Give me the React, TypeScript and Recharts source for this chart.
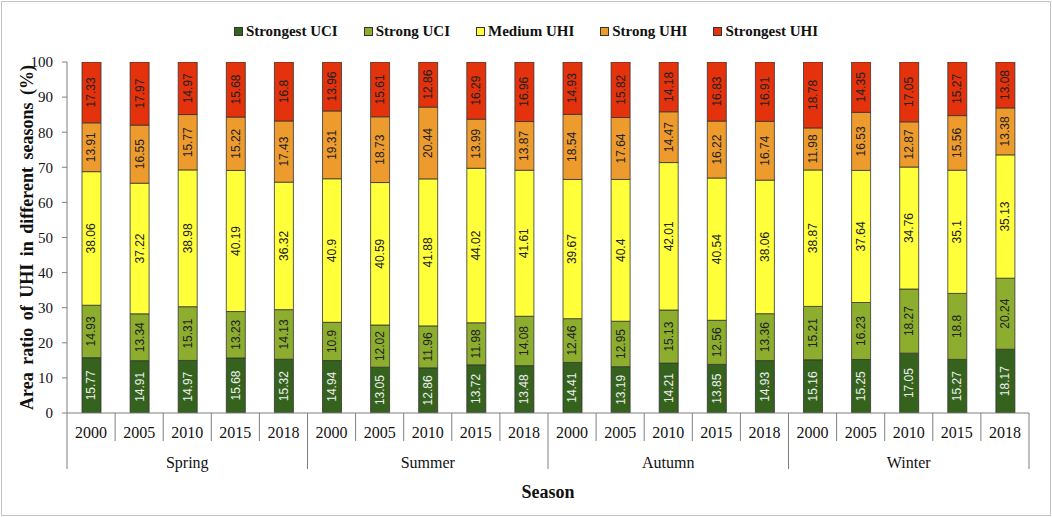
import React from "react"
import { BarChart, Bar, XAxis, YAxis, LabelList } from "recharts"

const seasons = ["Spring", "Summer", "Autumn", "Winter"]
const years = ["2000", "2005", "2010", "2015", "2018"]

const strongestUCI = [15.77, 14.91, 14.97, 15.68, 15.32, 14.94, 13.05, 12.86, 13.72, 13.48, 14.41, 13.19, 14.21, 13.85, 14.93, 15.16, 15.25, 17.05, 15.27, 18.17]
const strongUCI = [14.93, 13.34, 15.31, 13.23, 14.13, 10.9, 12.02, 11.96, 11.98, 14.08, 12.46, 12.95, 15.13, 12.56, 13.36, 15.21, 16.23, 18.27, 18.8, 20.24]
const mediumUHI = [38.06, 37.22, 38.98, 40.19, 36.32, 40.9, 40.59, 41.88, 44.02, 41.61, 39.67, 40.4, 42.01, 40.54, 38.06, 38.87, 37.64, 34.76, 35.1, 35.13]
const strongUHI = [13.91, 16.55, 15.77, 15.22, 17.43, 19.31, 18.73, 20.44, 13.99, 13.87, 18.54, 17.64, 14.47, 16.22, 16.74, 11.98, 16.53, 12.87, 15.56, 13.38]
const strongestUHI = [17.33, 17.97, 14.97, 15.68, 16.8, 13.96, 15.61, 12.86, 16.29, 16.96, 14.93, 15.82, 14.18, 16.83, 16.91, 18.78, 14.35, 17.05, 15.27, 13.08]

const yTicks = [0, 10, 20, 30, 40, 50, 60, 70, 80, 90, 100]

const series = [
  { key: "strongestUCI", name: "Strongest UCI", values: strongestUCI, color: "#35621c", text: "#eeeeee" },
  { key: "strongUCI", name: "Strong UCI", values: strongUCI, color: "#8dad2e", text: "#222222" },
  { key: "mediumUHI", name: "Medium UHI", values: mediumUHI, color: "#ffff3a", text: "#222222" },
  { key: "strongUHI", name: "Strong UHI", values: strongUHI, color: "#ee9b2e", text: "#222222" },
  { key: "strongestUHI", name: "Strongest UHI", values: strongestUHI, color: "#e3320c", text: "#222222" },
]

const data = seasons.flatMap((season, s) =>
  years.map((year, y) => {
    const i = s * 5 + y
    const row: Record<string, string | number> = { id: `${season}-${year}`, season, year }
    series.forEach((sr) => {
      row[sr.key] = sr.values[i]
    })
    return row
  })
)

const serif = "'Liberation Serif', 'Times New Roman', serif"
const axisGray = "#7f7f7f"

const YearTick = (props: any) => {
  const { x, y, payload, index } = props
  const half = payload.offset || 24
  const row = data[index]
  const posInSeason = index % years.length
  return (
    <g>
      <text x={x} y={y + 19} textAnchor="middle" dominantBaseline="central" fontFamily={serif} fontSize={16} fill="#111">
        {row.year}
      </text>
      {index === 0 && <line x1={x - half} y1={y} x2={x - half} y2={y + 56} stroke={axisGray} />}
      <line
        x1={x + half}
        y1={y}
        x2={x + half}
        y2={y + (posInSeason === years.length - 1 ? 56 : 28)}
        stroke={axisGray}
      />
      {posInSeason === 2 && (
        <text x={x} y={y + 49} textAnchor="middle" dominantBaseline="central" fontFamily={serif} fontSize={16} fill="#111">
          {row.season}
        </text>
      )}
    </g>
  )
}

const barLabel = (color: string) => (props: any) => {
  const { x, y, width, height, value } = props
  const cx = x + width / 2
  const cy = y + height / 2
  return (
    <text
      x={cx}
      y={cy}
      transform={`rotate(-90, ${cx}, ${cy})`}
      textAnchor="middle"
      dominantBaseline="central"
      fontFamily="'Liberation Sans', Arial, sans-serif"
      fontSize={12}
      fill={color}
    >
      {value}
    </text>
  )
}

export default function App() {
  return (
    <div style={{ position: "absolute", left: 0, top: 0, width: 1052, height: 517, background: "#fff" }}>
      <div
        style={{
          position: "absolute",
          left: 1,
          top: 1,
          width: 1048,
          height: 513,
          border: "1px solid #c4c4c4",
        }}
      />
      <div
        style={{
          position: "absolute",
          top: 23,
          left: 0,
          width: 1052,
          display: "flex",
          justifyContent: "center",
          fontFamily: serif,
          fontWeight: "bold",
          fontSize: 15,
          color: "#111",
        }}
      >
        {series.map((s, i) => (
          <div key={s.key} style={{ display: "flex", alignItems: "center", marginLeft: i === 0 ? 0 : 26 }}>
            <span
              style={{
                display: "inline-block",
                width: 7,
                height: 7,
                background: s.color,
                border: "1px solid #333",
                marginRight: 3,
              }}
            />
            <span>{s.name}</span>
          </div>
        ))}
      </div>
      <div style={{ position: "absolute", left: 0, top: 0 }}>
        <BarChart width={1052} height={517} data={data} margin={{ top: 62, right: 23, bottom: 0, left: 0 }}>
          <XAxis
            dataKey="id"
            interval={0}
            tickSize={0}
            tickMargin={0}
            height={104}
            tickLine={false}
            axisLine={{ stroke: axisGray }}
            tick={YearTick}
            label={{
              content: (p: any) => {
                const vb = p.viewBox
                return (
                  <text
                    x={vb.x + vb.width / 2}
                    y={vb.y + 79}
                    textAnchor="middle"
                    dominantBaseline="central"
                    fontFamily={serif}
                    fontWeight="bold"
                    fontSize={18}
                    fill="#111"
                  >
                    Season
                  </text>
                )
              },
            }}
          />
          <YAxis
            width={67}
            domain={[0, 100]}
            ticks={yTicks}
            allowDataOverflow
            tickSize={5}
            tickMargin={9}
            axisLine={{ stroke: axisGray }}
            tickLine={{ stroke: axisGray }}
            tick={{ fontFamily: serif, fontSize: 15, fill: "#111" }}
            label={{
              content: (p: any) => {
                const vb = p.viewBox
                const cx = vb.x + 27
                const cy = vb.y + vb.height / 2
                return (
                  <text
                    x={cx}
                    y={cy}
                    transform={`rotate(-90, ${cx}, ${cy})`}
                    textAnchor="middle"
                    dominantBaseline="central"
                    fontFamily={serif}
                    fontWeight="bold"
                    fontSize={18}
                    wordSpacing={3}
                    fill="#111"
                  >
                    Area ratio of UHI in different seasons (%)
                  </text>
                )
              },
            }}
          />
          {series.map((s) => (
            <Bar
              key={s.key}
              dataKey={s.key}
              name={s.name}
              stackId="a"
              fill={s.color}
              stroke="#333"
              strokeWidth={0.8}
              barSize={19}
              isAnimationActive={false}
            >
              <LabelList dataKey={s.key} content={barLabel(s.text)} />
            </Bar>
          ))}
        </BarChart>
      </div>
    </div>
  )
}
